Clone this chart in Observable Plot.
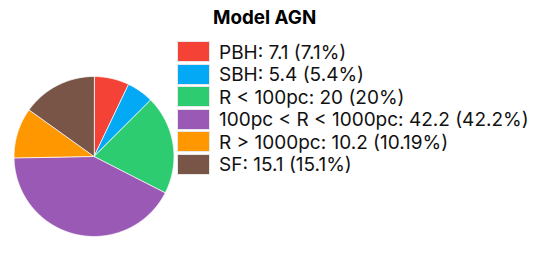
<!DOCTYPE html>
<html><head><meta charset="utf-8">
<script src="https://cdn.jsdelivr.net/npm/d3@7"></script>
<script src="https://cdn.jsdelivr.net/npm/@observablehq/plot@0.6"></script>
<style>
body{margin:0;background:#fff;font-family:Inter,"Liberation Sans",sans-serif;}
#wrap{position:relative;width:545px;height:273px;overflow:hidden;}
#wrap svg{position:absolute;left:0;top:0;}
#title{position:absolute;left:213px;top:6px;font-weight:bold;font-size:18.8px;color:#000;}
.row{position:absolute;left:177px;height:20px;display:flex;align-items:center;}
.sw{width:31px;height:19px;border:1px solid #e8e8e8;box-sizing:content-box;}
.lab{position:absolute;left:42px;font-size:19px;white-space:nowrap;color:#111;line-height:20px;top:1px;}
</style></head>
<body><div id="wrap"><div id="title">Model AGN</div></div>
<script>
const categories = ["PBH", "SBH", "R < 100pc", "100pc < R < 1000pc", "R > 1000pc", "SF"];
const values = [7.1, 5.4, 20, 42.2, 10.2, 15.1];
const percents = ["7.1%", "5.4%", "20%", "42.2%", "10.19%", "15.1%"];
const colors = ["#f44336", "#03a9f4", "#2ecc71", "#9b59b6", "#ff9800", "#795548"];

const data = categories.map((c, i) => ({category: c, value: values[i], pct: percents[i]}));
const arcs = d3.pie().sort(null).value(d => d.value)(data);
function slicePoly(a) {
  const n = Math.max(2, Math.ceil((a.endAngle - a.startAngle) / 0.01));
  const ring = [[0, 0]];
  for (let k = 0; k <= n; k++) {
    const t = a.startAngle + (a.endAngle - a.startAngle) * k / n;
    ring.push([Math.sin(t), Math.cos(t)]);
  }
  ring.push([0, 0]);
  return {type: "Feature", properties: a.data, geometry: {type: "Polygon", coordinates: [ring]}};
}
const features = arcs.map(slicePoly);
const outline = {type: "Polygon", coordinates: [d3.range(0, 361, 2).map(t => [Math.sin(t*Math.PI/180), Math.cos(t*Math.PI/180)])]};

const chart = Plot.plot({
  width: 545, height: 273,
  marginLeft: 13.5, marginTop: 76, marginRight: 371.5, marginBottom: 37,
  projection: {type: "reflect-y", domain: outline},
  color: {domain: categories, range: colors},
  marks: [
    Plot.geo(features, {fill: d => d.properties.category, stroke: "white", strokeWidth: 1, strokeOpacity: 0.8})
  ]
});
const wrap = document.getElementById("wrap");
wrap.insertBefore(chart, wrap.firstChild);

data.forEach((d, i) => {
  const row = document.createElement("div");
  row.className = "row";
  row.style.top = (41.5 + i * 22.5) + "px";
  const sw = document.createElement("div");
  sw.className = "sw";
  sw.style.background = colors[i];
  const lab = document.createElement("div");
  lab.className = "lab";
  lab.textContent = `${d.category}: ${d.value} (${d.pct})`;
  row.appendChild(sw); row.appendChild(lab);
  wrap.appendChild(row);
});
</script></body></html>
